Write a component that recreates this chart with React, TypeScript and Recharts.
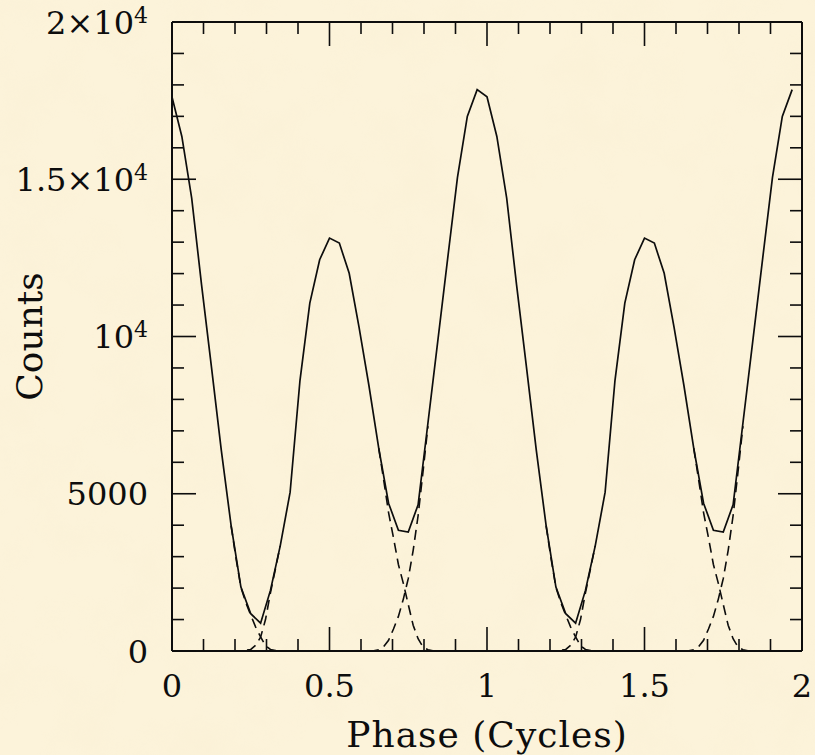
import React from "react";
import { LineChart, Line, XAxis, YAxis } from "recharts";

// Phase bins: 32 per cycle, two cycles plotted
const BIN = 1 / 32;
const HALF_BIN = 1 / 64;

// Total counts per phase bin (bin k sits at phase k/32)
const totalCounts = [
  17620, 16360, 14400, 11650, 9050, 6400, 4000, 2030,
  1185, 885, 1927, 3350, 5050, 8600, 11060, 12440,
  13130, 12970, 12010, 10300, 8450, 6450, 4700, 3840,
  3780, 4650, 7250, 9850, 12470, 15060, 17000, 17850,
  17620, 16360, 14400, 11650, 9050, 6400, 4000, 2030,
  1185, 885, 1927, 3350, 5050, 8600, 11060, 12440,
  13130, 12970, 12010, 10300, 8450, 6450, 4700, 3840,
  3780, 4650, 7250, 9850, 12470, 15060, 17000, 17850,
];

// Individual pulse components near the minima, sampled every half bin.
// Main pulse (phase 0) trailing edge, first cycle, from phase 0.1875
const mainTrail1 = [3990, 2950, 2030, 1540, 1140, 760, 450, 170, 50, 15, 4, 0, 0];
// Interpulse (phase 0.5) leading edge, first cycle, from phase 0.1875
const interLead1 = [0, 0, 5, 20, 50, 180, 440, 1000, 1850, 2600, 3350];
// Interpulse trailing edge, first cycle, from phase 0.65625
const interTrail1 = [6450, 5450, 4400, 3600, 2750, 2150, 1480, 820, 390, 130, 40, 10, 0];
// Main pulse leading edge, first cycle, from phase 0.625
const mainLead1 = [0, 10, 40, 140, 340, 700, 1100, 1650, 2300, 3200, 4300, 5700, 7150];

// Same components in the second cycle
const mainTrail2 = [3990, 2950, 2030, 1540, 1140, 760, 450, 170, 50, 15, 4, 0, 0];
const interLead2 = [0, 0, 5, 20, 50, 180, 440, 1000, 1850, 2600, 3350];
const interTrail2 = [6450, 5450, 4400, 3600, 2750, 2150, 1480, 820, 390, 130, 40, 10, 0];
const mainLead2 = [0, 10, 40, 140, 340, 700, 1100, 1650, 2300, 3200, 4300, 5700, 7150];

const componentStarts = {
  mainTrail1: 0.1875,
  interLead1: 0.1875,
  interTrail1: 0.65625,
  mainLead1: 0.625,
  mainTrail2: 1.1875,
  interLead2: 1.1875,
  interTrail2: 1.65625,
  mainLead2: 1.625,
};

// Axis ticks
const phaseTicks = [
  0, 0.1, 0.2, 0.3, 0.4, 0.5, 0.6, 0.7, 0.8, 0.9, 1, 1.1, 1.2, 1.3, 1.4, 1.5,
  1.6, 1.7, 1.8, 1.9, 2,
];
const phaseLabels = [
  { value: 0, text: "0" },
  { value: 0.5, text: "0.5" },
  { value: 1, text: "1" },
  { value: 1.5, text: "1.5" },
  { value: 2, text: "2" },
];
const countTicks = [
  0, 1000, 2000, 3000, 4000, 5000, 6000, 7000, 8000, 9000, 10000, 11000, 12000,
  13000, 14000, 15000, 16000, 17000, 18000, 19000, 20000,
];
const countLabels = [
  { value: 0, base: "0", exp: "" },
  { value: 5000, base: "5000", exp: "" },
  { value: 10000, base: "10", exp: "4" },
  { value: 15000, base: "1.5×10", exp: "4" },
  { value: 20000, base: "2×10", exp: "4" },
];

const toSeries = (values: number[], start: number, step: number) =>
  values.map((counts, i) => ({ phase: start + i * step, counts }));

const totalSeries = toSeries(totalCounts, 0, BIN);
const componentSeries = [
  toSeries(mainTrail1, componentStarts.mainTrail1, HALF_BIN),
  toSeries(interLead1, componentStarts.interLead1, HALF_BIN),
  toSeries(interTrail1, componentStarts.interTrail1, HALF_BIN),
  toSeries(mainLead1, componentStarts.mainLead1, HALF_BIN),
  toSeries(mainTrail2, componentStarts.mainTrail2, HALF_BIN),
  toSeries(interLead2, componentStarts.interLead2, HALF_BIN),
  toSeries(interTrail2, componentStarts.interTrail2, HALF_BIN),
  toSeries(mainLead2, componentStarts.mainLead2, HALF_BIN),
];

const INK = "#0d0d0d";
const FONT = "'DejaVu Serif', 'Liberation Serif', serif";
const MAJOR = 24;
const MINOR = 12;

const near = (a: number, b: number) => Math.abs(a - b) < 1e-6;
const isMajorPhase = (v: number) => phaseLabels.some((l) => near(l.value, v));
const isMajorCount = (v: number) => countLabels.some((l) => near(l.value, v));

function BottomTick(props: any) {
  const { x, y, payload } = props;
  const label = phaseLabels.find((l) => near(l.value, payload.value));
  const len = label ? MAJOR : MINOR;
  return (
    <g>
      <line x1={x} x2={x} y1={y} y2={y - len} stroke={INK} strokeWidth={1.6} />
      {label && (
        <text x={x} y={y + 46} textAnchor="middle" fontSize={32} fontFamily={FONT} fill={INK}>
          {label.text}
        </text>
      )}
    </g>
  );
}

function TopTick(props: any) {
  const { x, y, payload } = props;
  const len = isMajorPhase(payload.value) ? MAJOR : MINOR;
  return <line x1={x} x2={x} y1={y} y2={y + len} stroke={INK} strokeWidth={1.6} />;
}

function LeftTick(props: any) {
  const { x, y, payload } = props;
  const label = countLabels.find((l) => near(l.value, payload.value));
  const len = label ? MAJOR : MINOR;
  return (
    <g>
      <line x1={x} x2={x + len} y1={y} y2={y} stroke={INK} strokeWidth={1.6} />
      {label && (
        <text x={x - 24} y={y + 11.5} textAnchor="end" fontSize={32} fontFamily={FONT} fill={INK}>
          {label.base}
          {label.exp && (
            <tspan fontSize={22} dy={-11}>
              {label.exp}
            </tspan>
          )}
        </text>
      )}
    </g>
  );
}

function RightTick(props: any) {
  const { x, y, payload } = props;
  const len = isMajorCount(payload.value) ? MAJOR : MINOR;
  return <line x1={x} x2={x - len} y1={y} y2={y} stroke={INK} strokeWidth={1.6} />;
}

const axisLine = { stroke: INK, strokeWidth: 2 };

export default function App() {
  return (
    <div style={{ position: "relative", width: 815, height: 755, background: "#fcf3da", overflow: "hidden" }}>
      <style>{`body{margin:0}`}</style>
      <svg width={815} height={755} style={{ position: "absolute", left: 0, top: 0 }}>
        <filter id="parchment" x="0" y="0" width="100%" height="100%">
          <feTurbulence type="fractalNoise" baseFrequency="0.018" numOctaves={4} seed={7} />
          <feColorMatrix
            type="matrix"
            values="0 0 0 0 0.90  0 0 0 0 0.80  0 0 0 0 0.58  0.9 0 0 0 -0.38"
          />
        </filter>
        <rect width={815} height={755} filter="url(#parchment)" opacity={0.3} />
      </svg>
      <div style={{ position: "absolute", left: 0, top: 0 }}>
        <LineChart width={815} height={755} margin={{ top: 21, right: 12, bottom: 103, left: 0 }}>
          <XAxis
            xAxisId="bottom"
            dataKey="phase"
            type="number"
            domain={[0, 2]}
            ticks={phaseTicks}
            interval={0}
            height={1}
            tickSize={0}
            tickMargin={0}
            tick={<BottomTick />}
            axisLine={axisLine}
            allowDataOverflow
            label={{
              content: (p: any) => {
                const vb = p.viewBox || {};
                return (
                  <text
                    x={vb.x + vb.width / 2}
                    y={vb.y + 96}
                    textAnchor="middle"
                    fontSize={36}
                    fontFamily={FONT}
                    fill={INK}
                    letterSpacing={1}
                  >
                    Phase (Cycles)
                  </text>
                );
              },
            }}
          />
          <XAxis
            xAxisId="top"
            orientation="top"
            dataKey="phase"
            type="number"
            domain={[0, 2]}
            ticks={phaseTicks}
            interval={0}
            height={1}
            tickSize={0}
            tickMargin={0}
            tick={<TopTick />}
            axisLine={axisLine}
            allowDataOverflow
          />
          <YAxis
            yAxisId="left"
            type="number"
            domain={[0, 20000]}
            ticks={countTicks}
            interval={0}
            width={172}
            tickSize={0}
            tickMargin={0}
            tick={<LeftTick />}
            axisLine={axisLine}
            allowDataOverflow
            label={{
              content: (p: any) => {
                const vb = p.viewBox || {};
                const cx = 42;
                const cy = vb.y + vb.height / 2;
                return (
                  <text
                    x={cx}
                    y={cy}
                    transform={`rotate(-90, ${cx}, ${cy})`}
                    textAnchor="middle"
                    fontSize={36}
                    fontFamily={FONT}
                    fill={INK}
                  >
                    Counts
                  </text>
                );
              },
            }}
          />
          <YAxis
            yAxisId="right"
            orientation="right"
            type="number"
            domain={[0, 20000]}
            ticks={countTicks}
            interval={0}
            width={1}
            tickSize={0}
            tickMargin={0}
            tick={<RightTick />}
            axisLine={axisLine}
            allowDataOverflow
          />
          {componentSeries.map((series, i) => (
            <Line
              key={`component-${i}`}
              xAxisId="bottom"
              yAxisId="left"
              data={series}
              dataKey="counts"
              type="linear"
              stroke={INK}
              strokeWidth={1.6}
              strokeDasharray="10 6"
              dot={false}
              activeDot={false}
              isAnimationActive={false}
            />
          ))}
          <Line
            xAxisId="bottom"
            yAxisId="left"
            data={totalSeries}
            dataKey="counts"
            type="linear"
            stroke={INK}
            strokeWidth={1.7}
            dot={false}
            activeDot={false}
            isAnimationActive={false}
          />
          {/* Invisible companion series so the top and right frame axes are laid out */}
          <Line
            xAxisId="top"
            yAxisId="right"
            data={totalSeries}
            dataKey="counts"
            stroke="none"
            dot={false}
            activeDot={false}
            isAnimationActive={false}
          />
        </LineChart>
      </div>
    </div>
  );
}
